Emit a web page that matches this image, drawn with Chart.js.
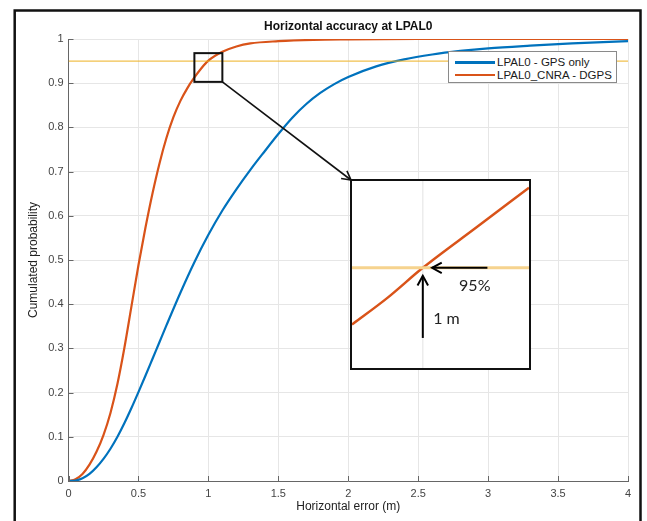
<!DOCTYPE html>
<html>
<head>
<meta charset="utf-8">
<script src="https://cdn.jsdelivr.net/npm/chart.js@4.4.1/dist/chart.umd.min.js"></script>
<style>
    body { margin: 0; background: #fff; }
    #wrap { position: relative; width: 647px; height: 521px; overflow: hidden; }
    #legend {
        position: absolute; left: 448px; top: 51px; width: 167px; height: 30px;
        border: 1px solid #8a8a8a; background: #fff;
        font: 11.5px "Liberation Sans", Arial, sans-serif; color: #1a1a1a;
    }
    #legend div { position: absolute; left: 0; height: 13px; line-height: 13px; white-space: nowrap; }
    #legend span.swatch { position: absolute; left: 6px; top: 5px; width: 40px; height: 2.5px; }
    #legend span.lbl { position: absolute; left: 48px; top: 0; }
    #inset {
        position: absolute; left: 350px; top: 179px; width: 177px; height: 187px;
        border: 2px solid #111; background: #fff;
    }
</style>
</head>
<body>
<div id="wrap">
    <canvas id="chart-main" width="647" height="521"></canvas>
    <div id="legend"></div>
    <div id="inset"><canvas id="chart-inset" width="177" height="187"></canvas></div>
</div>
<script>
// values
const seriesLabels = ["LPAL0 - GPS only", "LPAL0_CNRA - DGPS"];

const gpsX = [0, 0.05, 0.1, 0.15, 0.2, 0.25, 0.3, 0.35, 0.4, 0.45, 0.5, 0.55, 0.6, 0.65, 0.7, 0.8, 0.9, 1.0, 1.1, 1.2, 1.3, 1.4, 1.5, 1.6, 1.7, 1.8, 1.9, 2.0, 2.2, 2.4, 2.6, 2.8, 3.0, 3.3, 3.6, 4.0];
const gpsY = [0, 0.001, 0.006, 0.016, 0.031, 0.05, 0.073, 0.1, 0.131, 0.165, 0.201, 0.238, 0.276, 0.314, 0.352, 0.426, 0.495, 0.557, 0.612, 0.66, 0.704, 0.745, 0.785, 0.822, 0.853, 0.878, 0.898, 0.914, 0.938, 0.954, 0.965, 0.973, 0.979, 0.985, 0.99, 0.995];

const dgpsX = [0, 0.05, 0.1, 0.15, 0.2, 0.25, 0.3, 0.35, 0.4, 0.45, 0.5, 0.55, 0.6, 0.65, 0.7, 0.75, 0.8, 0.85, 0.9, 0.95, 1.0, 1.1, 1.2, 1.3, 1.5, 1.75, 2.0, 2.5, 3.0, 4.0];
const dgpsY = [0, 0.004, 0.016, 0.037, 0.066, 0.104, 0.154, 0.22, 0.302, 0.395, 0.488, 0.573, 0.65, 0.718, 0.776, 0.823, 0.86, 0.889, 0.913, 0.934, 0.951, 0.971, 0.983, 0.99, 0.995, 0.998, 0.999, 1.0, 1.0, 1.0];

const thresholdX = [0, 4];
const thresholdY = [0.95, 0.95];

// zoomed part (inset)
const insetX = [0.92, 0.96, 1.0, 1.06, 1.1, 1.12];
const insetY = [0.933, 0.941, 0.950, 0.962, 0.970, 0.974];
const insetThresholdX = [0.92, 1.12];
const insetThresholdY = [0.95, 0.95];

const zoomBox = { x0: 0.9, x1: 1.1, y0: 0.903, y1: 0.968 };

const BLUE = "#0072BD";
const ORANGE = "#D95319";
const YELLOW = "#EDB120";
const FONT = "'Liberation Sans', Arial, sans-serif";

function pts(xs, ys) {
    return xs.map((x, i) => ({ x: x, y: ys[i] }));
}

function tickText(v) {
    return String(Number(v.toFixed(2)));
}

function arrowHead(ctx, x0, y0, x1, y1, len) {
    const a = Math.atan2(y1 - y0, x1 - x0);
    ctx.beginPath();
    ctx.moveTo(x1 - len * Math.cos(a - 0.5), y1 - len * Math.sin(a - 0.5));
    ctx.lineTo(x1, y1);
    ctx.lineTo(x1 - len * Math.cos(a + 0.5), y1 - len * Math.sin(a + 0.5));
    ctx.stroke();
}

const mainDecor = {
    id: "mainDecor",
    afterDraw(chart) {
        const { ctx, chartArea, scales } = chart;
        const sx = scales.x, sy = scales.y;
        ctx.save();

        // inward ticks
        ctx.strokeStyle = "#666";
        ctx.lineWidth = 1;
        sy.ticks.forEach(t => {
            const y = Math.round(sy.getPixelForValue(t.value)) + 0.5;
            ctx.beginPath(); ctx.moveTo(chartArea.left, y); ctx.lineTo(chartArea.left + 5, y); ctx.stroke();
        });
        sx.ticks.forEach(t => {
            const x = Math.round(sx.getPixelForValue(t.value)) + 0.5;
            ctx.beginPath(); ctx.moveTo(x, chartArea.bottom); ctx.lineTo(x, chartArea.bottom - 5); ctx.stroke();
        });

        // title
        ctx.fillStyle = "#111";
        ctx.font = "bold 12px " + FONT;
        ctx.textAlign = "center";
        ctx.textBaseline = "middle";
        ctx.fillText("Horizontal accuracy at LPAL0", (chartArea.left + chartArea.right) / 2, 27);

        // zoom box
        const bx0 = sx.getPixelForValue(zoomBox.x0), bx1 = sx.getPixelForValue(zoomBox.x1);
        const by0 = sy.getPixelForValue(zoomBox.y0), by1 = sy.getPixelForValue(zoomBox.y1);
        ctx.strokeStyle = "#111";
        ctx.lineWidth = 2;
        ctx.strokeRect(bx0, by1, bx1 - bx0, by0 - by1);

        // connector to the inset
        ctx.lineWidth = 1.6;
        ctx.beginPath(); ctx.moveTo(bx1, by0); ctx.lineTo(351, 180); ctx.stroke();
        arrowHead(ctx, bx1, by0, 351, 180, 10);

        // outer frame
        ctx.lineWidth = 2.5;
        ctx.strokeStyle = "#111";
        ctx.strokeRect(14.7, 10.5, 625.8, 530);
        ctx.restore();
    }
};

new Chart(document.getElementById("chart-main"), {
    type: "line",
    data: {
        datasets: [
            { data: pts(thresholdX, thresholdY), borderColor: YELLOW, borderWidth: 1, pointRadius: 0 },
            { label: seriesLabels[0], data: pts(gpsX, gpsY), borderColor: BLUE, borderWidth: 2.2, pointRadius: 0, cubicInterpolationMode: "monotone" },
            { label: seriesLabels[1], data: pts(dgpsX, dgpsY), borderColor: ORANGE, borderWidth: 2.2, pointRadius: 0, cubicInterpolationMode: "monotone" },
        ]
    },
    options: {
        responsive: false,
        animation: false,
        layout: { padding: { top: 39, right: 19, left: 0, bottom: 0 } },
        plugins: {
            legend: { display: false },
            tooltip: { enabled: false },
        },
        scales: {
            x: {
                type: "linear", min: 0, max: 4,
                ticks: { stepSize: 0.5, padding: 6, maxRotation: 0, color: "#444", font: { family: FONT, size: 11 }, callback: tickText },
                grid: { color: "#e6e6e6", drawTicks: false },
                border: { color: "#666" },
                title: { display: true, text: "Horizontal error (m)", color: "#222", font: { family: FONT, size: 12 }, padding: { top: 0, bottom: 7 } },
                afterFit: s => { s.height = 40; }
            },
            y: {
                min: 0, max: 1,
                ticks: { stepSize: 0.1, padding: 5, color: "#444", font: { family: FONT, size: 11 }, callback: tickText },
                grid: { color: "#e6e6e6", drawTicks: false },
                border: { color: "#666" },
                title: { display: true, text: "Cumulated probability", color: "#222", font: { family: FONT, size: 12 }, padding: { top: 26, bottom: 0 } },
                afterFit: s => { s.width = 68.5; }
            }
        }
    },
    plugins: [mainDecor]
});

// legend built from the series
const legendEl = document.getElementById("legend");
[BLUE, ORANGE].forEach((c, i) => {
    const row = document.createElement("div");
    row.style.top = (4 + i * 12.6) + "px";
    row.innerHTML = `<span class="swatch" style="background:${c}"></span><span class="lbl">${seriesLabels[i]}</span>`;
    legendEl.appendChild(row);
});

const insetDecor = {
    id: "insetDecor",
    beforeDatasetsDraw(chart) {
        const { ctx, chartArea, scales } = chart;
        const x = scales.x.getPixelForValue(1.0);
        ctx.save();
        ctx.strokeStyle = "#ececec";
        ctx.lineWidth = 1.5;
        ctx.beginPath(); ctx.moveTo(x, chartArea.top); ctx.lineTo(x, chartArea.bottom); ctx.stroke();
        ctx.restore();
    },
    afterDraw(chart) {
        const { ctx, scales } = chart;
        const sx = scales.x, sy = scales.y;
        ctx.save();
        ctx.strokeStyle = "#000";
        ctx.lineWidth = 2;

        // arrow pointing at the 95% level
        let x0 = sx.getPixelForValue(1.073), x1 = sx.getPixelForValue(1.0105), y = sy.getPixelForValue(0.95);
        ctx.beginPath(); ctx.moveTo(x0, y); ctx.lineTo(x1, y); ctx.stroke();
        arrowHead(ctx, x0, y, x1, y, 11);

        // arrow pointing at 1 m
        const x = sx.getPixelForValue(1.0), y0 = sy.getPixelForValue(0.929), y1 = sy.getPixelForValue(0.9476);
        ctx.beginPath(); ctx.moveTo(x, y0); ctx.lineTo(x, y1); ctx.stroke();
        arrowHead(ctx, x, y0, x, y1, 11);

        ctx.fillStyle = "#222";
        ctx.font = "16px Lato, 'Open Sans', sans-serif";
        ctx.textAlign = "left";
        ctx.textBaseline = "alphabetic";
        ctx.fillText("95%", sx.getPixelForValue(1.041), sy.getPixelForValue(0.943));
        ctx.fillText("1 m", sx.getPixelForValue(1.0118), sy.getPixelForValue(0.9332));
        ctx.restore();
    }
};

new Chart(document.getElementById("chart-inset"), {
    type: "line",
    data: {
        datasets: [
            { data: pts(insetThresholdX, insetThresholdY), borderColor: "#F6D38E", borderWidth: 3, pointRadius: 0 },
            { data: pts(insetX, insetY), borderColor: ORANGE, borderWidth: 2.5, pointRadius: 0, cubicInterpolationMode: "monotone" },
        ]
    },
    options: {
        responsive: false,
        animation: false,
        layout: { padding: 0 },
        plugins: { legend: { display: false }, tooltip: { enabled: false } },
        scales: {
            x: { type: "linear", min: 0.92, max: 1.12, display: false },
            y: { min: 0.92, max: 0.976, display: false }
        }
    },
    plugins: [insetDecor]
});
</script>
</body>
</html>
